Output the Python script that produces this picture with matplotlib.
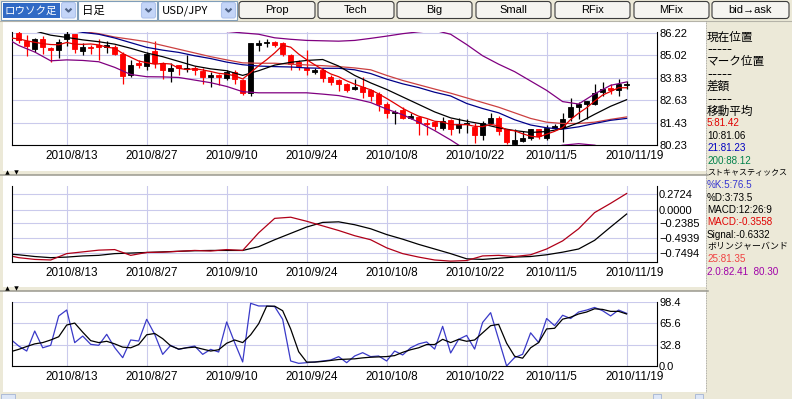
import numpy as np
import pandas as pd
import matplotlib
matplotlib.use('Agg')
import matplotlib.pyplot as plt
import matplotlib.transforms as mtransforms
from matplotlib.patches import Rectangle, FancyBboxPatch

W, H = 792, 399
JP = ['Noto Sans CJK JP', 'DejaVu Sans']
NUM = ['Liberation Sans', 'DejaVu Sans']
plt.rcParams['font.family'] = JP

# ---------------- data ----------------
dates = pd.bdate_range('2010-08-05', '2010-11-19')
date_labels = [f'{d.year}/{d.month}/{d.day}' for d in dates]
tick_dates = ['2010/8/13', '2010/8/27', '2010/9/10', '2010/9/24',
              '2010/10/8', '2010/10/22', '2010/11/5', '2010/11/19']

opens = [86.24, 85.78, 85.38, 85.87, 85.42, 85.33, 85.87, 86.15, 85.27, 85.47,
         85.56, 85.46, 85.46, 85.11, 83.96, 84.60, 84.47, 85.24, 84.60, 84.18,
         84.51, 84.29, 84.33, 84.20, 83.87, 83.96, 83.82, 84.11, 83.69, 83.02,
         85.60, 85.69, 85.73, 85.69, 85.05, 84.65, 84.33, 84.15, 84.24, 83.87,
         83.69, 83.51, 83.24, 83.33, 83.18, 82.96, 82.42, 81.93, 82.11, 81.69,
         81.73, 81.42, 81.45, 81.15, 81.55, 81.15, 81.36, 81.20, 80.78, 81.42,
         81.69, 81.06, 80.29, 80.47, 80.60, 81.06, 80.60, 81.15, 81.15, 81.73,
         82.24, 82.42, 82.42, 83.05, 83.29, 83.15, 83.42]
highs = [86.36, 86.11, 85.96, 86.06, 85.46, 85.87, 86.33, 86.15, 85.69, 85.56,
         85.87, 85.78, 85.60, 85.20, 84.78, 84.78, 85.20, 85.78, 84.64, 84.60,
         84.51, 85.06, 84.47, 84.33, 84.15, 84.00, 84.24, 84.24, 83.78, 85.69,
         85.82, 85.87, 85.78, 85.75, 85.09, 84.78, 85.33, 84.36, 84.33, 83.96,
         83.78, 83.55, 83.78, 83.87, 83.24, 83.05, 82.51, 82.11, 82.24, 81.96,
         81.78, 81.60, 81.51, 81.75, 81.60, 81.69, 81.60, 81.42, 81.51, 81.93,
         81.78, 81.10, 81.09, 80.96, 81.09, 81.10, 81.29, 81.33, 81.96, 82.73,
         82.51, 82.60, 83.51, 83.60, 83.51, 83.75, 83.64]
lows = [85.69, 84.97, 85.20, 85.11, 84.69, 84.87, 85.51, 85.15, 85.06, 85.11,
        84.80, 85.15, 85.06, 83.51, 83.87, 84.33, 84.24, 84.33, 83.78, 83.60,
        83.96, 84.15, 83.96, 83.51, 83.33, 83.42, 83.73, 83.51, 82.91, 82.84,
        85.24, 85.46, 85.46, 84.97, 84.24, 84.24, 83.96, 84.00, 83.60, 83.42,
        83.09, 83.05, 83.15, 82.73, 82.60, 82.05, 81.69, 81.33, 81.60, 81.60,
        80.78, 80.78, 81.05, 81.05, 80.78, 80.87, 80.87, 80.36, 80.51, 81.33,
        80.78, 80.30, 80.15, 80.40, 80.51, 80.53, 80.49, 81.10, 80.40, 81.51,
        81.60, 81.60, 82.36, 82.87, 82.96, 82.84, 83.20]
closes = [85.82, 85.51, 85.87, 85.47, 85.33, 85.75, 86.15, 85.38, 85.46, 85.42,
          85.47, 85.56, 85.11, 83.93, 84.51, 84.51, 85.11, 84.60, 84.24, 84.36,
          84.36, 84.36, 84.24, 83.87, 83.96, 83.87, 84.15, 83.78, 83.02, 85.69,
          85.69, 85.75, 85.60, 85.09, 84.55, 84.47, 84.24, 84.24, 83.82, 83.60,
          83.51, 83.15, 83.33, 83.05, 82.87, 82.42, 81.93, 82.02, 81.69, 81.78,
          81.42, 81.36, 81.24, 81.51, 81.09, 81.33, 81.42, 80.78, 81.42, 81.69,
          80.96, 80.37, 80.51, 80.60, 81.06, 80.73, 81.15, 81.24, 81.60, 82.24,
          82.42, 82.60, 83.02, 83.24, 83.15, 83.51, 83.51]

# day positions -1..76 (the lines start one day before the first candle)
ma5 = [85.95, 85.90, 85.80, 85.72, 85.65, 85.60, 85.59, 85.71, 85.62, 85.61,
       85.63, 85.58, 85.46, 85.40, 85.12, 84.92, 84.72, 84.63, 84.55, 84.59,
       84.56, 84.33, 84.26, 84.31, 84.24, 84.16, 84.06, 84.02, 83.93, 83.76,
       84.10, 84.47, 84.79, 85.15, 85.56, 85.46, 85.09, 84.79, 84.52, 84.26,
       84.03, 83.88, 83.66, 83.48, 83.33, 83.18, 82.96, 82.72, 82.46, 82.19,
       81.97, 81.77, 81.65, 81.50, 81.46, 81.32, 81.31, 81.32, 81.23, 81.21,
       81.33, 81.25, 81.04, 80.99, 80.83, 80.70, 80.65, 80.81, 80.96, 81.16,
       81.59, 81.93, 82.22, 82.58, 82.90, 83.09, 83.29, 83.29]
stoch_k = [41.0, 30.7, 23.0, 53.8, 28.0, 31.8, 76.9, 86.1, 35.9, 46.0,
           33.3, 31.8, 48.7, 28.2, 12.8, 40.0, 38.4, 71.8, 48.7, 17.9,
           31.8, 25.6, 28.2, 30.7, 17.9, 25.6, 21.5, 67.7, 35.9, 6.2,
           96.4, 92.3, 92.3, 91.3, 71.8, 7.7, 4.1, 5.1, 6.2, 7.7,
           9.2, 14.4, 5.1, 15.4, 20.5, 14.4, 15.4, 7.7, 23.0, 17.0,
           28.0, 34.0, 37.0, 26.0, 61.0, 20.0, 41.0, 47.0, 26.0, 67.0,
           82.0, 41.0, 0.0, 13.0, 18.0, 51.0, 36.0, 73.0, 62.0, 78.0,
           73.0, 83.0, 86.0, 90.0, 85.0, 77.0, 86.0, 81.0]
stoch_d = [22.0, 25.6, 30.0, 34.0, 36.0, 40.0, 45.0, 63.0, 66.0, 52.0,
           39.0, 36.0, 38.0, 34.0, 29.0, 28.0, 33.0, 48.0, 50.0, 42.0,
           31.0, 26.0, 28.0, 29.0, 26.0, 23.0, 25.0, 35.0, 40.0, 36.0,
           48.0, 65.0, 92.0, 92.0, 85.0, 57.0, 22.0, 6.0, 6.0, 7.0,
           8.5, 10.0, 10.5, 11.0, 12.5, 13.5, 14.0, 14.5, 16.0, 21.0,
           25.0, 28.0, 33.0, 33.0, 41.0, 36.0, 41.0, 38.0, 40.0, 51.0,
           62.0, 64.0, 35.0, 15.0, 12.0, 28.0, 36.0, 57.0, 58.0, 72.0,
           75.0, 80.0, 83.0, 88.0, 87.0, 84.0, 84.0, 80.0]

# smooth lines read every second day: positions -1, 0, 2, 4, ..., 76
ma10 = [86.70, 86.60, 86.33, 86.10, 85.98, 85.85, 85.75, 85.62, 85.40, 85.15,
        84.95, 84.70, 84.45, 84.30, 84.20, 83.95, 84.20, 84.50, 84.65, 84.75,
        84.80, 84.45, 83.95, 83.55, 83.20, 82.80, 82.40, 82.00, 81.68, 81.50,
        81.35, 81.15, 81.00, 80.90, 80.95, 81.10, 81.42, 81.87, 82.30, 82.65]
ma21 = [87.10, 87.00, 86.80, 86.55, 86.40, 86.25, 86.15, 85.95, 85.70, 85.45,
        85.30, 85.18, 85.00, 84.85, 84.66, 84.52, 84.45, 84.42, 84.40, 84.35,
        84.33, 84.33, 84.25, 84.05, 83.75, 83.50, 83.30, 83.05, 82.85, 82.45,
        82.18, 81.95, 81.58, 81.30, 81.15, 81.08, 81.20, 81.38, 81.55, 81.65]
bb_mid = [87.00, 86.90, 86.75, 86.60, 86.45, 86.30, 86.18, 86.00, 85.88, 85.75,
          85.55, 85.35, 85.15, 84.95, 84.78, 84.62, 84.60, 84.60, 84.55, 84.51,
          84.47, 84.42, 84.35, 84.25, 83.95, 83.68, 83.45, 83.22, 83.00, 82.75,
          82.50, 82.25, 81.95, 81.65, 81.45, 81.38, 81.38, 81.45, 81.60, 81.73]
bb_up = [87.60, 87.60, 87.60, 87.60, 87.50, 87.40, 87.30, 87.20, 87.10, 87.00,
         86.90, 86.70, 86.50, 86.36, 86.30, 86.22, 86.15, 85.96, 85.88, 85.82,
         85.80, 85.78, 85.82, 85.93, 86.05, 86.18, 86.28, 86.36, 86.15, 85.60,
         85.00, 84.55, 84.15, 83.65, 83.15, 82.55, 82.42, 82.96, 83.42, 83.60]
bb_lo = [85.80, 85.55, 85.20, 84.73, 84.78, 84.75, 84.68, 84.38, 84.00, 83.88,
         83.87, 83.84, 83.70, 83.56, 83.36, 83.08, 83.02, 83.02, 83.02, 83.02,
         82.95, 82.87, 82.70, 82.50, 82.15, 81.85, 81.45, 81.00, 80.50, 79.95,
         79.60, 79.40, 79.45, 79.70, 80.00, 80.22, 80.30, 80.22, 80.00, 79.85]
macd = [-0.80, -0.83, -0.86, -0.87, -0.76, -0.73, -0.70, -0.69, -0.79, -0.74,
        -0.735, -0.72, -0.705, -0.715, -0.69, -0.705, -0.40, -0.15, -0.13, -0.20,
        -0.28, -0.36, -0.45, -0.52, -0.66, -0.76, -0.82, -0.87, -0.89, -0.88,
        -0.80, -0.79, -0.81, -0.78, -0.68, -0.54, -0.33, -0.05, 0.11, 0.28]
signal = [-0.77, -0.78, -0.81, -0.83, -0.82, -0.80, -0.79, -0.76, -0.75, -0.74,
          -0.73, -0.72, -0.71, -0.705, -0.705, -0.705, -0.64, -0.52, -0.41, -0.30,
          -0.22, -0.21, -0.26, -0.33, -0.43, -0.51, -0.60, -0.68, -0.76, -0.85,
          -0.86, -0.84, -0.82, -0.81, -0.78, -0.735, -0.68, -0.53, -0.30, -0.075]

price_ticks = [80.23, 81.43, 82.63, 83.83, 85.02, 86.22]
macd_ticks = [-0.7494, -0.4939, -0.2385, 0.0, 0.2724]
stoch_ticks = [0.0, 32.8, 65.6, 98.4]

combo_text = ['ロウソク足', '日足', 'USD/JPY']
button_text = ['Prop', 'Tech', 'Big', 'Small', 'RFix', 'MFix', 'bid→ask']
side_text = ['現在位置', '-----', 'マーク位置', '-----', '差額', '-----', '移動平均',
             '5:81.42', '10:81.06', '21:81.23', '200:88.12', 'ストキャスティックス',
             '%K:5:76.5', '%D:3:73.5', 'MACD:12:26:9', 'MACD:-0.3558',
             'Signal:-0.6332', 'ボリンジャーバンド', '25:81.35', '2.0:82.41  80.30']
side_color = ['k', 'k', 'k', 'k', 'k', 'k', 'k', '#E00000', 'k', '#0000C0',
              '#00804A', 'k', '#3434D0', 'k', 'k', '#E00000', 'k', 'k',
              '#F04040', '#A000A8']

# ---------------- positions ----------------
idx = np.arange(len(dates))
day_idx = np.arange(-1, len(dates))
line_idx = np.array([-1] + list(range(0, len(dates), 2)))
tick_pos = [date_labels.index(t) for t in tick_dates]


def fig_box(x0, y0, x1, y1):
    return [x0 / W, 1 - y1 / H, (x1 - x0) / W, (y1 - y0) / H]


fig = plt.figure(figsize=(W / 100, H / 100), dpi=100, facecolor='#ECE9D8')

# background / window chrome in pixel coordinates
bg = fig.add_axes([0, 0, 1, 1])
bg.set_xlim(0, W)
bg.set_ylim(H, 0)
bg.axis('off')

for y0, y1 in [(21, 171), (175, 287), (291, 392)]:
    bg.add_patch(Rectangle((3, y0), 703, y1 - y0, fc='white', ec='none'))
for yy in (174.5, 290.5):
    bg.plot([0, 708], [yy, yy], color='#9A998E', lw=1.1)
    bg.plot(7, yy - 2.6, marker='^', ms=3.2, color='k', mew=0)
    bg.plot(16, yy - 2.6, marker='v', ms=3.2, color='k', mew=0)
bg.plot([0, W], [20.5, 20.5], color='#B5B3A8', lw=0.8)
bg.plot([706, 706], [21, 392], color='#9A9A9A', lw=0.6, ls=(0, (1, 1)))
for x0, w in [(1, 14), (653, 8), (695, 8)]:
    bg.add_patch(Rectangle((x0, 393.5), w, 6, fc='#DDE6F6', ec='#A4B4D4', lw=0.6))

# combo boxes
combo_x = [(1, 77), (78, 157), (158, 237)]
for i, ((x0, x1), s) in enumerate(zip(combo_x, combo_text)):
    bg.add_patch(Rectangle((x0, 1), x1 - x0, 18.5, fc='white', ec='#7F9DB9', lw=0.8))
    if i == 0:
        bg.add_patch(Rectangle((x0 + 1.5, 2.5), x1 - x0 - 18.5, 15.5, fc='#316AC5', ec='none'))
    bg.text(x0 + 4, 10.5, s, color='white' if i == 0 else 'black',
            fontsize=7.6 if i == 0 else 8.2, family=JP, va='center', ha='left')
    bg.add_patch(FancyBboxPatch((x1 - 15.5, 2.5), 14, 15.5,
                                boxstyle='round,pad=0,rounding_size=2',
                                fc='#C4D5F8', ec='#AFC3EC', lw=0.8))
    cx = x1 - 8.5
    bg.plot([cx - 3, cx, cx + 3], [8.6, 11.6, 8.6], color='#4D6185', lw=1.5,
            solid_capstyle='butt')

# buttons
button_x = [(239, 315), (318, 394), (397, 472), (476, 551), (555, 630),
            (634, 709), (712, 789)]
for (x0, x1), s in zip(button_x, button_text):
    bg.add_patch(FancyBboxPatch((x0, 1.5), x1 - x0, 17,
                                boxstyle='round,pad=0,rounding_size=3',
                                fc='#F5F4F0', ec='#3C3C3C', lw=0.8))
    bg.text((x0 + x1) / 2, 10.3, s, fontsize=8, family=NUM, ha='center', va='center')

# right hand info column
for k, (s, c) in enumerate(zip(side_text, side_color)):
    cjk = any(ord(ch) > 0x3000 for ch in s)
    if cjk:
        size = min(8.4, 58 / len(s))
    elif set(s) == {'-'}:
        size = 11
    else:
        size = 7.1
    bg.text(707, 37 + 12.35 * k, s, color=c, fontsize=size,
            family=JP if cjk else NUM, va='center', ha='left')


# ---------------- chart panels ----------------
label_shift = mtransforms.ScaledTranslation(-21 / 100, 0, fig.dpi_scale_trans)


def chart_axes(box, ylim, yticks, ylabels):
    ax = fig.add_axes(fig_box(*box))
    ax.set_facecolor('none')
    ax.set_xlim(-0.84, 79.8)
    ax.set_ylim(*ylim)
    ax.set_xticks(tick_pos)
    ax.set_xticklabels(tick_dates, fontsize=8.5, family=NUM)
    ax.set_yticks(yticks)
    ax.set_yticklabels(ylabels, fontsize=8, family=NUM)
    ax.yaxis.tick_right()
    ax.tick_params(axis='x', length=0, pad=3.5)
    ax.tick_params(axis='y', length=0, pad=1.5)
    for lab in ax.get_xticklabels():
        lab.set_horizontalalignment('left')
        lab.set_transform(lab.get_transform() + label_shift)
    ax.spines['top'].set_visible(False)
    for s in ('left', 'right', 'bottom'):
        ax.spines[s].set_linewidth(0.8)
    ax.grid(True, color='#CACAEC', lw=0.8)
    ax.set_axisbelow(True)
    return ax


# price panel
ax1 = chart_axes((12, 32, 657, 145), (80.23, 86.27), price_ticks,
                 [f'{v:.2f}' for v in price_ticks])
o = np.array(opens)
c = np.array(closes)
cols = np.where(c < o, '#FF0000', '#000000')
ax1.vlines(idx, lows, highs, colors=cols, lw=0.9, zorder=2)
ax1.bar(idx, np.abs(c - o), bottom=np.minimum(o, c), width=0.62,
        color=cols, edgecolor=cols, lw=0.6, zorder=2)
ax1.plot(line_idx, bb_up, color='#800080', lw=0.9, zorder=3)
ax1.plot(line_idx, bb_lo, color='#800080', lw=0.9, zorder=3)
ax1.plot(line_idx, bb_mid, color='#CC4040', lw=0.9, zorder=3)
ax1.plot(line_idx, ma21, color='#000088', lw=0.9, zorder=3)
ax1.plot(line_idx, ma10, color='black', lw=0.9, zorder=3)
ax1.plot(day_idx, ma5, color='#E00000', lw=0.9, zorder=3)

# MACD panel
ax2 = chart_axes((12, 186, 657, 262), (-0.905, 0.41), macd_ticks,
                 [f'{v:.4f}'.replace('-', '\u2212') for v in macd_ticks])
ax2.plot(line_idx, signal, color='black', lw=0.9)
ax2.plot(line_idx, macd, color='#B00018', lw=0.9)

# stochastics panel
ax3 = chart_axes((12, 302, 657, 366), (0, 98.4), stoch_ticks,
                 [f'{v:.1f}' for v in stoch_ticks])
ax3.plot(day_idx, stoch_k, color='#3A3AC8', lw=0.9)
ax3.plot(day_idx, stoch_d, color='black', lw=0.9)

fig.savefig('out.png', dpi=100, facecolor=fig.get_facecolor())
